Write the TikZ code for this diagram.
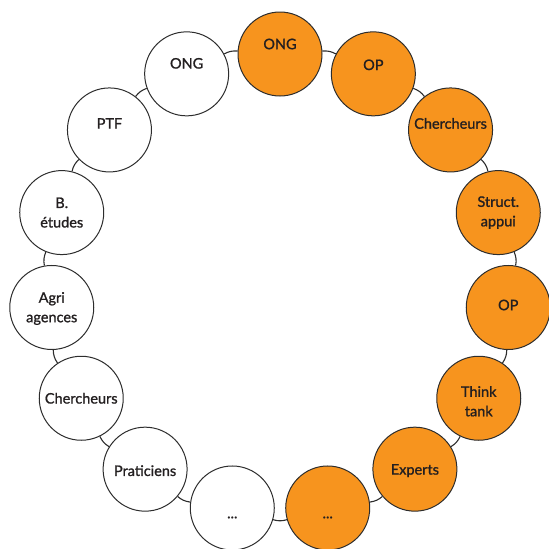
\documentclass[tikz,border=0pt]{standalone}
\usepackage{fontspec}
\setmainfont[FakeBold=1.2]{Lato}
\definecolor{actorange}{RGB}{247,148,30}
\definecolor{actline}{RGB}{45,45,45}
\definecolor{actink}{RGB}{35,31,32}

\begin{document}
\begin{tikzpicture}[%
x=1pt, y=1pt,
actor/.style={circle, draw=actline, line width=1pt, minimum size=84pt, inner sep=0pt},
actorA/.style={actor, fill=actorange},
actorB/.style={actor, fill=white},
lbl/.style={font=\fontsize{14.5pt}{19.5pt}\selectfont, text=actink, align=center, inner sep=0pt},
link/.style={draw=actline, line width=1.1pt},
]
\useasboundingbox (0,0) rectangle (549,-549);
\coordinate (c) at (280,-283.5);
%% actors (orange);
\node[actorA] (ong2) at ([shift={(90:229.5)}]c) {};
\node[actorA] (op1) at ([shift={(66:229.5)}]c) {};
\node[actorA] (cher1) at ([shift={(42:229.5)}]c) {};
\node[actorA] (struct) at ([shift={(18:229.5)}]c) {};
\node[actorA] (op2) at ([shift={(-6:229.5)}]c) {};
\node[actorA] (think) at ([shift={(-30:229.5)}]c) {};
\node[actorA] (experts) at ([shift={(-54:229.5)}]c) {};
\node[actorA] (etc1) at ([shift={(-78:229.5)}]c) {};
%% actors (white);
\node[actorB] (etc2) at ([shift={(-102:229.5)}]c) {};
\node[actorB] (prat) at ([shift={(-126:229.5)}]c) {};
\node[actorB] (cher2) at ([shift={(-150:229.5)}]c) {};
\node[actorB] (agri) at ([shift={(-174:229.5)}]c) {};
\node[actorB] (etudes) at ([shift={(162:229.5)}]c) {};
\node[actorB] (ptf) at ([shift={(138:229.5)}]c) {};
\node[actorB] (ong1) at ([shift={(114:229.5)}]c) {};
%% labels;
\node[lbl, yshift=10] (ong2t) at (ong2) {ONG};
\node[lbl, yshift=9] (op1t) at (op1) {OP};
\node[lbl, yshift=6.5] (cher1t) at (cher1) {Chercheurs};
\node[lbl] (structt) at (struct) {Struct.\\appui};
\node[lbl, yshift=2.5] (op2t) at (op2) {OP};
\node[lbl, yshift=-3] (thinkt) at (think) {Think\\tank};
\node[lbl, yshift=-1.5] (expertst) at (experts) {Experts};
\node[lbl, yshift=-9.5] (etc1t) at (etc1) {...};
\node[lbl, yshift=-9.5] (etc2t) at (etc2) {...};
\node[lbl, yshift=-1.5] (pratt) at (prat) {Praticiens};
\node[lbl] (cher2t) at (cher2) {Chercheurs};
\node[lbl, yshift=-1] (agrit) at (agri) {Agri\\agences};
\node[lbl] (etudest) at (etudes) {B.\\études};
\node[lbl, yshift=6.5] (ptft) at (ptf) {PTF};
\node[lbl, yshift=10.5] (ong1t) at (ong1) {ONG};
%% links;
\draw[link] (ong1) to[bend left=16] (ong2);
\draw[link] (ong2) to[bend left=16] (op1);
\draw[link] (op1) to[bend left=16] (cher1);
\draw[link] (cher1) to[bend left=16] (struct);
\draw[link] (struct) to[bend left=16] (op2);
\draw[link] (op2) to[bend left=16] (think);
\draw[link] (think) to[bend left=16] (experts);
\draw[link] (experts) to[bend left=16] (etc1);
\draw[link] (etc1) to[bend left=16] (etc2);
\draw[link] (etc2) to[bend left=16] (prat);
\draw[link] (prat) to[bend left=16] (cher2);
\draw[link] (cher2) to[bend left=16] (agri);
\draw[link] (agri) to[bend left=16] (etudes);
\draw[link] (etudes) to[bend left=16] (ptf);
\draw[link] (ptf) to[bend left=16] (ong1);
\end{tikzpicture}
\end{document}
